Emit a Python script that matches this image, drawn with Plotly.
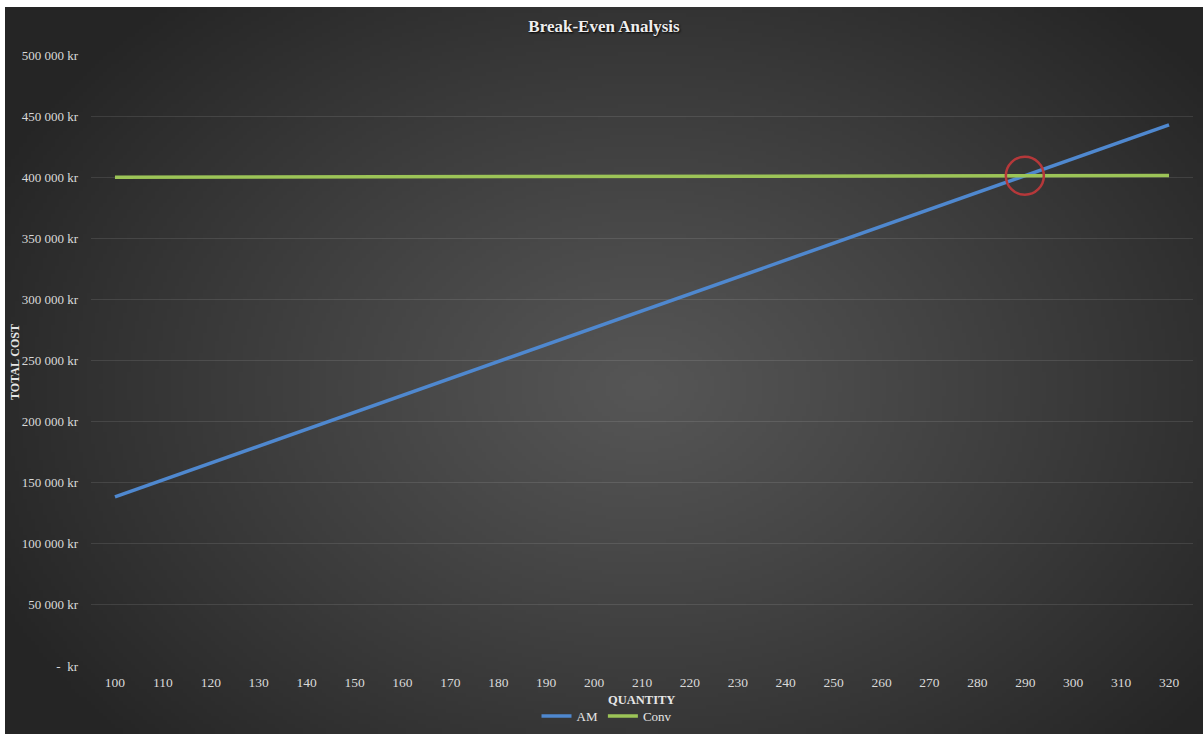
import base64
import struct
import zlib

import numpy as np
import plotly.graph_objects as go

# ---- data -------------------------------------------------------------
quantity = [100, 110, 120, 130, 140, 150, 160, 170, 180, 190, 200, 210,
            220, 230, 240, 250, 260, 270, 280, 290, 300, 310, 320]
am_cost = [138400, 152240, 166080, 179920, 193760, 207600, 221440, 235280,
           249120, 262960, 276800, 290640, 304480, 318320, 332160, 346000,
           359840, 373680, 387520, 401360, 415200, 429040, 442880]
conv_cost = [399900, 399970, 400040, 400110, 400180, 400250, 400320, 400390,
             400460, 400530, 400600, 400670, 400740, 400810, 400880, 400950,
             401020, 401090, 401160, 401230, 401300, 401370, 401440]
y_ticks = [0, 50000, 100000, 150000, 200000, 250000, 300000, 350000,
           400000, 450000, 500000]
y_tick_labels = ["-  kr", "50 000 kr", "100 000 kr", "150 000 kr",
                 "200 000 kr", "250 000 kr", "300 000 kr", "350 000 kr",
                 "400 000 kr", "450 000 kr", "500 000 kr"]

W, H = 1203, 734
L, R, T, B = 91, 10, 55, 68
PW, PH = W - L - R, H - T - B
FONT = "Liberation Serif, Times New Roman, serif"


# ---- radial gradient background as an inline PNG ----------------------
def gradient_png(w, h):
    yy, xx = np.mgrid[0:h, 0:w]
    cx, cy = w * 0.53, h * 0.52
    r = np.sqrt(((xx - cx) / (w * 0.60)) ** 2 + ((yy - cy) / (h * 0.72)) ** 2)
    r = np.clip(r, 0, 1)
    v = (0x56 + (0x25 - 0x56) * r ** 1.1).astype(np.uint8)
    rgb = np.stack([v, v, v], axis=-1)
    raw = b"".join(b"\x00" + rgb[i].tobytes() for i in range(h))

    def chunk(tag, data):
        c = struct.pack(">I", len(data)) + tag + data
        return c + struct.pack(">I", zlib.crc32(tag + data) & 0xFFFFFFFF)

    png = b"\x89PNG\r\n\x1a\n"
    png += chunk(b"IHDR", struct.pack(">IIBBBBB", w, h, 8, 2, 0, 0, 0))
    png += chunk(b"IDAT", zlib.compress(raw, 9))
    png += chunk(b"IEND", b"")
    return "data:image/png;base64," + base64.b64encode(png).decode()


def px_to_paper_x(px):
    return (px - L) / PW


def px_to_paper_y(py):
    return (H - B - py) / PH


fig = go.Figure()

fig.add_trace(go.Scatter(
    x=quantity, y=am_cost, name="AM", mode="lines",
    line=dict(color="#4f88cf", width=3.5),
))
fig.add_trace(go.Scatter(
    x=quantity, y=conv_cost, name="Conv", mode="lines",
    line=dict(color="#9cc457", width=3.5),
))

# break-even point: where the two cost curves cross
diff = np.array(am_cost, dtype=float) - np.array(conv_cost, dtype=float)
i = int(np.argmax(diff >= 0))
t = -diff[i - 1] / (diff[i] - diff[i - 1])
be_x = quantity[i - 1] + t * (quantity[i] - quantity[i - 1])
be_y = conv_cost[i - 1] + t * (conv_cost[i] - conv_cost[i - 1])

fig.add_shape(
    type="circle", xref="x", yref="y",
    xsizemode="pixel", ysizemode="pixel",
    xanchor=be_x, yanchor=be_y, x0=-19, x1=19, y0=-19, y1=19,
    line=dict(color="#b5383a", width=2.5),
)

fig.add_layout_image(dict(
    source=gradient_png(300, 184), xref="paper", yref="paper",
    x=px_to_paper_x(5), y=px_to_paper_y(7),
    sizex=px_to_paper_x(W) - px_to_paper_x(5),
    sizey=px_to_paper_y(7) - px_to_paper_y(H),
    sizing="stretch", xanchor="left", yanchor="top", layer="below",
))

fig.add_annotation(
    text="<b>TOTAL COST</b>", xref="paper", yref="paper",
    x=px_to_paper_x(15), y=px_to_paper_y(362), textangle=-90,
    xanchor="center", yanchor="middle",
    showarrow=False, font=dict(family=FONT, size=12, color="#e6e6e6"),
)
fig.add_annotation(
    text="<b>QUANTITY</b>", xref="paper", yref="paper",
    x=px_to_paper_x(641), y=px_to_paper_y(700),
    xanchor="center", yanchor="middle",
    showarrow=False, font=dict(family=FONT, size=12.5, color="#e6e6e6"),
)

fig.update_layout(
    width=W, height=H,
    margin=dict(l=L, r=R, t=T, b=B, autoexpand=False),
    paper_bgcolor="white", plot_bgcolor="rgba(0,0,0,0)",
    title=dict(
        text="<b>Break-Even Analysis</b>", x=604 / W,
        xanchor="center", y=1 - 26 / H, yanchor="middle",
        font=dict(family=FONT, size=17, color="#eeeeee",
                  shadow="1px 1px 2px #000000"),
    ),
    showlegend=True,
    legend=dict(
        orientation="h", x=px_to_paper_x(607), xanchor="center",
        y=px_to_paper_y(716), yanchor="middle",
        font=dict(family=FONT, size=13, color="#e6e6e6"),
        bgcolor="rgba(0,0,0,0)", itemwidth=30, tracegroupgap=0,
    ),
    xaxis=dict(
        range=[95, 325], tickmode="array", tickvals=quantity,
        ticktext=[str(q) for q in quantity], showgrid=False, zeroline=False,
        showline=False, ticks="", ticklabelstandoff=6,
        tickfont=dict(family=FONT, size=13.5, color="#d9d9d9"),
    ),
    yaxis=dict(
        range=[0, 500000], tickmode="array", tickvals=y_ticks,
        ticktext=y_tick_labels, showgrid=True,
        gridcolor="rgba(255,255,255,0.10)",
        gridwidth=1, zeroline=False, showline=False, ticks="",
        ticklabelstandoff=12,
        tickfont=dict(family=FONT, size=13, color="#d9d9d9"),
    ),
)

fig.write_html("out.html")
